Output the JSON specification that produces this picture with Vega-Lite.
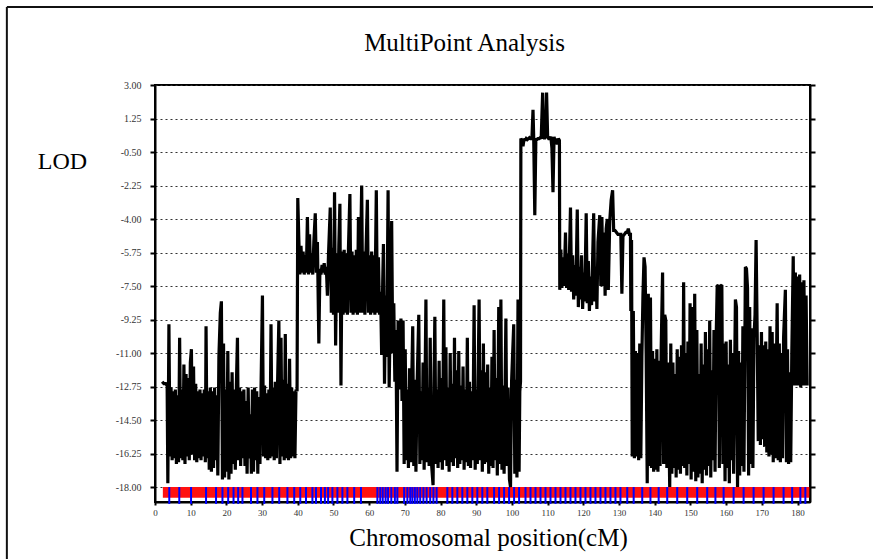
{
  "$schema": "https://vega.github.io/schema/vega-lite/v6.json",
  "width": 655,
  "height": 417,
  "autosize": "none",
  "padding": {"left": 155, "top": 85, "right": 63, "bottom": 57},
  "background": "white",
  "title": {
    "text": "MultiPoint Analysis",
    "font": "Liberation Serif",
    "fontSize": 25,
    "fontWeight": "normal",
    "color": "black",
    "anchor": "middle",
    "frame": "group",
    "dx": -18,
    "offset": -50
  },
  "config": {
    "view": {"stroke": "black", "strokeWidth": 2},
    "axis": {
      "domainColor": "black",
      "domainWidth": 2,
      "tickColor": "black",
      "tickWidth": 2,
      "labelFont": "Liberation Serif",
      "labelColor": "#333",
      "titleFont": "Liberation Serif",
      "titleFontWeight": "normal",
      "titleColor": "black"
    },
    "axisX": {"labelOverlap": false}
  },
  "datasets": {
    "lod": [
      {"cM":2.0,"lod":-12.5},{"cM":2.5,"lod":-12.6},{"cM":3.0,"lod":-12.6},{"cM":3.4,"lod":-12.7},{"cM":3.6,"lod":-17.8},{"cM":3.9,"lod":-9.5},{"cM":4.2,"lod":-16.4},{"cM":4.5,"lod":-12.8},{"cM":4.8,"lod":-16.6},{"cM":5.1,"lod":-13.0},
      {"cM":5.4,"lod":-16.5},{"cM":5.7,"lod":-12.9},{"cM":6.0,"lod":-16.8},{"cM":6.3,"lod":-13.2},{"cM":6.6,"lod":-16.7},{"cM":6.9,"lod":-10.2},{"cM":7.2,"lod":-16.5},{"cM":7.5,"lod":-12.9},{"cM":7.8,"lod":-16.6},{"cM":8.1,"lod":-11.6},
      {"cM":8.4,"lod":-16.8},{"cM":8.7,"lod":-12.1},{"cM":9.0,"lod":-16.4},{"cM":9.3,"lod":-12.3},{"cM":9.6,"lod":-16.6},{"cM":9.9,"lod":-11.5},{"cM":10.2,"lod":-10.8},{"cM":10.5,"lod":-16.3},{"cM":10.8,"lod":-11.7},{"cM":11.1,"lod":-16.6},
      {"cM":11.4,"lod":-12.6},{"cM":11.7,"lod":-16.7},{"cM":12.0,"lod":-13.0},{"cM":12.3,"lod":-16.5},{"cM":12.6,"lod":-12.9},{"cM":12.9,"lod":-16.6},{"cM":13.2,"lod":-13.1},{"cM":13.5,"lod":-16.4},{"cM":13.8,"lod":-12.9},{"cM":14.1,"lod":-16.7},
      {"cM":14.3,"lod":-9.6},{"cM":14.6,"lod":-16.5},{"cM":14.9,"lod":-13.0},{"cM":15.2,"lod":-17.1},{"cM":15.5,"lod":-12.8},{"cM":15.8,"lod":-17.2},{"cM":16.1,"lod":-13.0},{"cM":16.4,"lod":-17.0},{"cM":16.7,"lod":-12.8},{"cM":17.0,"lod":-16.6},
      {"cM":17.3,"lod":-13.2},{"cM":17.6,"lod":-17.4},{"cM":17.9,"lod":-11.2},{"cM":18.3,"lod":-8.9},{"cM":18.6,"lod":-8.3},{"cM":18.9,"lod":-17.6},{"cM":19.2,"lod":-10.5},{"cM":19.5,"lod":-17.5},{"cM":19.8,"lod":-12.9},{"cM":20.1,"lod":-17.2},
      {"cM":20.4,"lod":-10.9},{"cM":20.7,"lod":-17.6},{"cM":21.0,"lod":-12.5},{"cM":21.3,"lod":-17.3},{"cM":21.6,"lod":-12.0},{"cM":21.9,"lod":-16.8},{"cM":22.2,"lod":-12.9},{"cM":22.5,"lod":-17.1},{"cM":22.8,"lod":-12.7},{"cM":23.1,"lod":-10.2},
      {"cM":23.4,"lod":-16.6},{"cM":23.7,"lod":-12.8},{"cM":24.0,"lod":-16.9},{"cM":24.3,"lod":-13.0},{"cM":24.6,"lod":-16.5},{"cM":24.9,"lod":-12.9},{"cM":25.2,"lod":-16.9},{"cM":25.5,"lod":-13.5},{"cM":25.8,"lod":-17.3},{"cM":26.1,"lod":-12.8},
      {"cM":26.4,"lod":-16.5},{"cM":26.7,"lod":-14.2},{"cM":27.0,"lod":-17.3},{"cM":27.3,"lod":-12.9},{"cM":27.6,"lod":-17.2},{"cM":27.9,"lod":-12.8},{"cM":28.2,"lod":-16.6},{"cM":28.5,"lod":-13.0},{"cM":28.8,"lod":-17.3},{"cM":29.1,"lod":-13.3},
      {"cM":29.4,"lod":-16.8},{"cM":29.7,"lod":-12.9},{"cM":30.1,"lod":-8.0},{"cM":30.4,"lod":-16.4},{"cM":30.7,"lod":-12.7},{"cM":31.0,"lod":-16.5},{"cM":31.3,"lod":-13.1},{"cM":31.6,"lod":-16.6},{"cM":31.9,"lod":-12.9},{"cM":32.2,"lod":-16.5},
      {"cM":32.5,"lod":-9.5},{"cM":32.8,"lod":-16.4},{"cM":33.1,"lod":-12.8},{"cM":33.4,"lod":-16.6},{"cM":33.7,"lod":-12.5},{"cM":34.0,"lod":-16.5},{"cM":34.3,"lod":-12.9},{"cM":34.7,"lod":-9.3},{"cM":35.0,"lod":-16.8},{"cM":35.3,"lod":-10.2},
      {"cM":35.6,"lod":-16.4},{"cM":35.9,"lod":-12.4},{"cM":36.2,"lod":-16.6},{"cM":36.5,"lod":-10.0},{"cM":36.8,"lod":-16.5},{"cM":37.1,"lod":-12.6},{"cM":37.4,"lod":-16.6},{"cM":37.7,"lod":-11.3},{"cM":38.0,"lod":-16.5},{"cM":38.3,"lod":-12.8},
      {"cM":38.6,"lod":-16.4},{"cM":38.9,"lod":-13.0},{"cM":39.2,"lod":-16.5},{"cM":39.5,"lod":-12.9},{"cM":39.8,"lod":-13.0},
      {"cM":40.0,"lod":-2.9},{"cM":40.3,"lod":-5.1},{"cM":40.6,"lod":-6.9},{"cM":40.9,"lod":-5.4},{"cM":41.2,"lod":-6.8},{"cM":41.5,"lod":-5.7},{"cM":41.8,"lod":-6.9},{"cM":42.1,"lod":-5.9},{"cM":42.4,"lod":-6.8},{"cM":42.7,"lod":-3.9},
      {"cM":43.0,"lod":-6.9},{"cM":43.3,"lod":-4.8},{"cM":43.6,"lod":-6.8},{"cM":43.9,"lod":-5.8},{"cM":44.2,"lod":-6.9},{"cM":44.5,"lod":-5.2},{"cM":44.9,"lod":-3.7},{"cM":45.2,"lod":-6.8},{"cM":45.5,"lod":-5.2},{"cM":45.9,"lod":-10.5},
      {"cM":46.2,"lod":-6.6},{"cM":46.5,"lod":-6.9},{"cM":46.8,"lod":-6.4},{"cM":47.1,"lod":-6.8},{"cM":47.4,"lod":-6.3},{"cM":47.7,"lod":-6.9},{"cM":48.0,"lod":-6.5},{"cM":48.3,"lod":-8.0},{"cM":48.6,"lod":-5.9},{"cM":49.1,"lod":-3.4},
      {"cM":49.4,"lod":-8.9},{"cM":49.7,"lod":-5.5},{"cM":50.0,"lod":-9.0},{"cM":50.3,"lod":-2.6},{"cM":50.6,"lod":-10.6},{"cM":50.9,"lod":-5.8},{"cM":51.2,"lod":-8.9},{"cM":51.5,"lod":-5.4},{"cM":51.8,"lod":-3.2},{"cM":52.1,"lod":-12.7},
      {"cM":52.4,"lod":-5.7},{"cM":52.7,"lod":-9.0},{"cM":53.0,"lod":-5.6},{"cM":53.3,"lod":-8.9},{"cM":53.6,"lod":-5.8},{"cM":53.9,"lod":-9.0},{"cM":54.2,"lod":-5.5},{"cM":54.6,"lod":-2.7},{"cM":54.9,"lod":-8.9},{"cM":55.2,"lod":-5.7},
      {"cM":55.5,"lod":-9.0},{"cM":55.8,"lod":-5.9},{"cM":56.1,"lod":-8.9},{"cM":56.4,"lod":-5.6},{"cM":56.7,"lod":-9.0},{"cM":57.0,"lod":-3.9},{"cM":57.3,"lod":-8.9},{"cM":57.6,"lod":-5.8},{"cM":57.9,"lod":-2.25},{"cM":58.2,"lod":-8.9},
      {"cM":58.5,"lod":-5.7},{"cM":58.8,"lod":-9.0},{"cM":59.1,"lod":-5.8},{"cM":59.5,"lod":-3.0},{"cM":59.8,"lod":-8.9},{"cM":60.1,"lod":-5.9},{"cM":60.4,"lod":-9.0},{"cM":60.7,"lod":-5.7},{"cM":61.0,"lod":-8.9},{"cM":61.3,"lod":-5.9},
      {"cM":61.6,"lod":-9.0},{"cM":62.0,"lod":-2.5},{"cM":62.3,"lod":-8.9},{"cM":62.6,"lod":-6.0},{"cM":62.9,"lod":-9.0},{"cM":63.2,"lod":-7.8},{"cM":63.5,"lod":-11.1},{"cM":63.8,"lod":-7.2},{"cM":64.0,"lod":-5.3},{"cM":64.3,"lod":-12.6},
      {"cM":64.6,"lod":-8.0},{"cM":64.9,"lod":-11.2},{"cM":65.3,"lod":-2.5},{"cM":65.6,"lod":-12.8},{"cM":66.0,"lod":-7.8},{"cM":66.3,"lod":-4.1},{"cM":66.6,"lod":-11.0},{"cM":66.9,"lod":-8.4},{"cM":67.2,"lod":-12.5},{"cM":67.5,"lod":-9.8},
      {"cM":67.8,"lod":-17.2},{"cM":68.1,"lod":-9.3},{"cM":68.4,"lod":-12.9},{"cM":68.9,"lod":-9.2},{"cM":69.2,"lod":-13.5},{"cM":69.5,"lod":-9.3},
      {"cM":69.8,"lod":-16.8},{"cM":70.1,"lod":-10.8},{"cM":70.4,"lod":-16.6},{"cM":70.7,"lod":-12.9},{"cM":71.0,"lod":-17.0},{"cM":71.3,"lod":-11.8},{"cM":71.6,"lod":-16.7},{"cM":71.9,"lod":-12.7},{"cM":72.2,"lod":-9.6},{"cM":72.5,"lod":-16.9},
      {"cM":72.8,"lod":-12.4},{"cM":73.1,"lod":-17.2},{"cM":73.4,"lod":-12.9},{"cM":73.9,"lod":-9.0},{"cM":74.2,"lod":-16.8},{"cM":74.5,"lod":-13.0},{"cM":74.8,"lod":-16.6},{"cM":75.1,"lod":-11.5},{"cM":75.4,"lod":-17.1},{"cM":75.9,"lod":-8.2},
      {"cM":76.2,"lod":-16.7},{"cM":76.5,"lod":-12.8},{"cM":76.8,"lod":-16.9},{"cM":77.1,"lod":-10.2},{"cM":77.4,"lod":-16.6},{"cM":77.9,"lod":-17.9},{"cM":78.2,"lod":-12.0},{"cM":78.4,"lod":-9.1},{"cM":78.7,"lod":-16.8},{"cM":79.0,"lod":-12.9},
      {"cM":79.3,"lod":-17.0},{"cM":79.6,"lod":-11.4},{"cM":79.9,"lod":-16.7},{"cM":80.2,"lod":-12.3},{"cM":80.5,"lod":-17.1},{"cM":80.9,"lod":-8.2},{"cM":81.2,"lod":-16.6},{"cM":81.5,"lod":-10.7},{"cM":81.8,"lod":-16.9},{"cM":82.1,"lod":-12.8},
      {"cM":82.4,"lod":-17.2},{"cM":82.7,"lod":-11.0},{"cM":83.0,"lod":-16.7},{"cM":83.3,"lod":-12.6},{"cM":83.6,"lod":-16.9},{"cM":83.9,"lod":-10.2},{"cM":84.2,"lod":-16.5},{"cM":84.5,"lod":-11.9},{"cM":84.8,"lod":-17.0},{"cM":85.1,"lod":-10.9},
      {"cM":85.4,"lod":-16.8},{"cM":85.7,"lod":-12.7},{"cM":86.0,"lod":-16.6},{"cM":86.3,"lod":-11.7},{"cM":86.6,"lod":-17.1},{"cM":86.9,"lod":-12.9},{"cM":87.2,"lod":-16.7},{"cM":87.5,"lod":-10.2},{"cM":87.8,"lod":-16.9},{"cM":88.1,"lod":-12.5},
      {"cM":88.4,"lod":-17.0},{"cM":88.7,"lod":-13.0},{"cM":89.0,"lod":-16.6},{"cM":89.4,"lod":-8.5},{"cM":89.7,"lod":-17.1},{"cM":90.0,"lod":-12.9},{"cM":90.3,"lod":-16.8},{"cM":90.5,"lod":-12.7},{"cM":90.8,"lod":-8.2},{"cM":91.1,"lod":-16.6},
      {"cM":91.4,"lod":-11.9},{"cM":91.7,"lod":-17.2},{"cM":92.0,"lod":-10.5},{"cM":92.3,"lod":-16.8},{"cM":92.6,"lod":-12.0},{"cM":92.9,"lod":-16.7},{"cM":93.2,"lod":-11.6},{"cM":93.5,"lod":-17.3},{"cM":93.8,"lod":-12.8},{"cM":94.1,"lod":-16.9},
      {"cM":94.4,"lod":-11.2},{"cM":94.7,"lod":-17.0},{"cM":95.0,"lod":-9.8},{"cM":95.3,"lod":-16.6},{"cM":95.6,"lod":-12.3},{"cM":95.9,"lod":-17.4},{"cM":96.3,"lod":-8.6},{"cM":96.6,"lod":-16.8},{"cM":96.9,"lod":-8.2},{"cM":97.2,"lod":-17.1},
      {"cM":97.5,"lod":-12.7},{"cM":97.8,"lod":-17.3},{"cM":98.3,"lod":-9.2},{"cM":98.6,"lod":-16.9},{"cM":98.9,"lod":-12.8},{"cM":99.3,"lod":-17.6},{"cM":99.6,"lod":-18.0},{"cM":99.9,"lod":-12.5},{"cM":100.5,"lod":-9.5},{"cM":100.8,"lod":-17.3},
      {"cM":101.1,"lod":-12.4},{"cM":101.4,"lod":-17.5},{"cM":101.7,"lod":-8.2},{"cM":102.0,"lod":-17.2},{"cM":102.2,"lod":-13.0},{"cM":102.4,"lod":-12.5},
      {"cM":102.5,"lod":0.2},{"cM":102.8,"lod":0.1},{"cM":103.1,"lod":-0.2},{"cM":103.4,"lod":0.2},{"cM":103.7,"lod":0.1},{"cM":104.0,"lod":0.2},{"cM":104.3,"lod":0.15},{"cM":104.6,"lod":0.2},{"cM":104.9,"lod":0.25},{"cM":105.2,"lod":0.2},
      {"cM":105.6,"lod":0.2},{"cM":105.9,"lod":1.7},{"cM":106.1,"lod":0.2},{"cM":106.4,"lod":-3.8},{"cM":106.7,"lod":0.2},{"cM":107.0,"lod":0.15},{"cM":107.3,"lod":0.2},{"cM":107.6,"lod":0.2},{"cM":107.9,"lod":0.25},{"cM":108.2,"lod":0.2},
      {"cM":108.6,"lod":2.6},{"cM":108.8,"lod":0.3},{"cM":109.1,"lod":0.2},{"cM":109.4,"lod":0.3},{"cM":109.7,"lod":2.6},{"cM":110.0,"lod":0.3},{"cM":110.3,"lod":0.2},{"cM":110.6,"lod":0.2},{"cM":110.9,"lod":0.3},{"cM":111.2,"lod":-0.3},
      {"cM":111.5,"lod":-2.6},{"cM":111.8,"lod":0.3},{"cM":112.1,"lod":0.0},{"cM":112.4,"lod":0.2},{"cM":112.7,"lod":-0.1},{"cM":113.0,"lod":0.2},{"cM":113.3,"lod":0.1},
      {"cM":113.4,"lod":-7.7},{"cM":113.7,"lod":-5.6},{"cM":114.0,"lod":-7.6},{"cM":114.3,"lod":-6.0},{"cM":114.6,"lod":-7.5},{"cM":115.0,"lod":-4.7},{"cM":115.3,"lod":-7.6},{"cM":115.6,"lod":-5.8},{"cM":115.9,"lod":-7.7},{"cM":116.4,"lod":-3.4},
      {"cM":116.7,"lod":-7.8},{"cM":117.0,"lod":-5.9},{"cM":117.3,"lod":-8.2},{"cM":117.6,"lod":-6.4},{"cM":117.9,"lod":-8.0},{"cM":118.3,"lod":-3.5},{"cM":118.6,"lod":-8.6},{"cM":118.9,"lod":-6.5},{"cM":119.2,"lod":-8.2},{"cM":119.5,"lod":-5.9},
      {"cM":119.8,"lod":-8.7},{"cM":120.1,"lod":-6.8},{"cM":120.4,"lod":-8.3},{"cM":120.8,"lod":-3.7},{"cM":121.1,"lod":-8.4},{"cM":121.4,"lod":-6.2},{"cM":121.7,"lod":-8.8},{"cM":122.0,"lod":-7.0},{"cM":122.3,"lod":-8.5},{"cM":122.9,"lod":-3.7},
      {"cM":123.2,"lod":-8.3},{"cM":123.5,"lod":-6.5},{"cM":123.8,"lod":-8.7},{"cM":124.1,"lod":-5.2},{"cM":124.6,"lod":-3.8},{"cM":124.9,"lod":-7.5},{"cM":125.2,"lod":-3.9},{"cM":125.5,"lod":-7.5},{"cM":125.8,"lod":-4.7},{"cM":126.1,"lod":-8.0},
      {"cM":126.4,"lod":-4.5},{"cM":126.7,"lod":-4.0},{"cM":127.0,"lod":-7.7},{"cM":127.4,"lod":-4.1},{"cM":127.8,"lod":-3.0},{"cM":128.2,"lod":-2.5},{"cM":128.5,"lod":-4.6},{"cM":128.9,"lod":-4.6},{"cM":129.3,"lod":-4.7},{"cM":129.7,"lod":-4.8},
      {"cM":130.1,"lod":-4.8},{"cM":130.5,"lod":-4.8},{"cM":130.8,"lod":-7.9},{"cM":131.1,"lod":-4.9},{"cM":131.5,"lod":-4.8},{"cM":131.9,"lod":-4.7},{"cM":132.3,"lod":-4.7},{"cM":132.6,"lod":-4.5},{"cM":132.9,"lod":-4.8},{"cM":133.2,"lod":-4.8},
      {"cM":133.3,"lod":-8.8},{"cM":133.5,"lod":-5.1},{"cM":133.7,"lod":-16.4},{"cM":134.0,"lod":-8.8},{"cM":134.3,"lod":-16.5},{"cM":134.6,"lod":-10.9},{"cM":134.9,"lod":-16.4},{"cM":135.2,"lod":-11.0},{"cM":135.5,"lod":-16.6},{"cM":135.8,"lod":-10.5},
      {"cM":136.1,"lod":-16.5},{"cM":136.4,"lod":-11.2},{"cM":136.7,"lod":-8.0},{"cM":137.0,"lod":-6.0},{"cM":137.3,"lod":-6.5},{"cM":137.6,"lod":-11.0},{"cM":137.9,"lod":-17.8},{"cM":138.2,"lod":-7.9},{"cM":138.5,"lod":-16.9},{"cM":138.8,"lod":-8.1},
      {"cM":139.1,"lod":-17.0},{"cM":139.4,"lod":-10.9},{"cM":139.7,"lod":-17.2},{"cM":140.0,"lod":-11.3},{"cM":140.3,"lod":-17.1},{"cM":140.6,"lod":-10.8},{"cM":140.9,"lod":-17.2},{"cM":141.2,"lod":-11.4},{"cM":141.5,"lod":-16.9},{"cM":141.8,"lod":-10.9},
      {"cM":142.2,"lod":-6.8},{"cM":142.5,"lod":-16.8},{"cM":142.8,"lod":-9.0},{"cM":143.1,"lod":-9.3},{"cM":143.4,"lod":-17.0},{"cM":143.7,"lod":-11.5},{"cM":144.2,"lod":-18.0},{"cM":144.5,"lod":-10.5},{"cM":144.8,"lod":-17.3},{"cM":145.1,"lod":-11.5},
      {"cM":145.4,"lod":-17.0},{"cM":145.7,"lod":-12.1},{"cM":146.0,"lod":-17.5},{"cM":146.3,"lod":-10.8},{"cM":146.6,"lod":-17.1},{"cM":146.9,"lod":-11.2},{"cM":147.2,"lod":-17.3},{"cM":147.5,"lod":-10.6},{"cM":147.8,"lod":-16.9},{"cM":148.1,"lod":-7.3},
      {"cM":148.4,"lod":-17.0},{"cM":148.7,"lod":-11.0},{"cM":149.0,"lod":-17.4},{"cM":149.3,"lod":-10.4},{"cM":149.6,"lod":-16.8},{"cM":149.9,"lod":-8.4},{"cM":150.2,"lod":-17.6},{"cM":150.5,"lod":-8.6},{"cM":150.9,"lod":-17.2},{"cM":151.2,"lod":-7.9},
      {"cM":151.5,"lod":-17.7},{"cM":151.8,"lod":-9.8},{"cM":152.1,"lod":-17.5},{"cM":152.4,"lod":-12.1},{"cM":152.7,"lod":-17.3},{"cM":153.0,"lod":-10.5},{"cM":153.3,"lod":-17.8},{"cM":153.6,"lod":-11.6},{"cM":153.9,"lod":-17.1},{"cM":154.2,"lod":-9.9},
      {"cM":154.5,"lod":-17.4},{"cM":154.8,"lod":-10.8},{"cM":155.1,"lod":-16.9},{"cM":155.4,"lod":-9.3},{"cM":155.7,"lod":-17.5},{"cM":156.0,"lod":-11.9},{"cM":156.3,"lod":-16.6},{"cM":156.6,"lod":-9.8},{"cM":156.9,"lod":-17.2},{"cM":157.2,"lod":-10.3},
      {"cM":157.5,"lod":-7.5},{"cM":157.8,"lod":-7.45},{"cM":158.1,"lod":-17.0},{"cM":158.4,"lod":-7.5},{"cM":158.8,"lod":-7.45},{"cM":159.1,"lod":-16.8},{"cM":159.4,"lod":-10.5},{"cM":159.7,"lod":-17.7},{"cM":160.0,"lod":-10.4},{"cM":160.3,"lod":-17.0},
      {"cM":160.6,"lod":-11.6},{"cM":160.9,"lod":-17.8},{"cM":161.2,"lod":-10.3},{"cM":161.5,"lod":-16.6},{"cM":161.8,"lod":-11.0},{"cM":162.1,"lod":-17.3},{"cM":162.6,"lod":-8.2},{"cM":162.9,"lod":-8.6},{"cM":163.2,"lod":-18.0},{"cM":163.5,"lod":-10.9},
      {"cM":163.8,"lod":-17.4},{"cM":164.1,"lod":-11.5},{"cM":164.4,"lod":-16.9},{"cM":164.7,"lod":-9.6},{"cM":165.0,"lod":-17.2},{"cM":165.4,"lod":-6.5},{"cM":165.7,"lod":-6.6},{"cM":166.0,"lod":-7.6},{"cM":166.3,"lod":-17.4},{"cM":166.6,"lod":-8.6},
      {"cM":166.9,"lod":-16.8},{"cM":167.2,"lod":-9.7},{"cM":167.5,"lod":-17.0},{"cM":167.8,"lod":-10.2},{"cM":168.1,"lod":-9.0},{"cM":168.4,"lod":-5.1},{"cM":168.7,"lod":-10.0},{"cM":169.0,"lod":-15.6},{"cM":169.3,"lod":-10.6},{"cM":169.6,"lod":-15.8},
      {"cM":169.9,"lod":-9.9},{"cM":170.2,"lod":-15.5},{"cM":170.5,"lod":-10.6},{"cM":170.8,"lod":-15.9},{"cM":171.1,"lod":-10.4},{"cM":171.4,"lod":-16.2},{"cM":171.7,"lod":-10.8},{"cM":172.0,"lod":-16.4},{"cM":172.3,"lod":-9.6},{"cM":172.6,"lod":-16.3},
      {"cM":172.9,"lod":-9.9},{"cM":173.2,"lod":-16.7},{"cM":173.5,"lod":-10.5},{"cM":173.8,"lod":-16.5},{"cM":174.3,"lod":-8.4},{"cM":174.6,"lod":-16.6},{"cM":174.9,"lod":-10.5},{"cM":175.2,"lod":-16.7},{"cM":175.5,"lod":-11.0},{"cM":175.8,"lod":-16.5},
      {"cM":176.1,"lod":-10.2},{"cM":176.6,"lod":-7.7},{"cM":176.9,"lod":-16.7},{"cM":177.2,"lod":-10.8},{"cM":177.5,"lod":-16.8},{"cM":177.8,"lod":-12.0},{"cM":178.1,"lod":-16.7},{"cM":178.4,"lod":-11.1},{"cM":178.8,"lod":-5.95},{"cM":179.1,"lod":-12.7},
      {"cM":179.4,"lod":-6.8},{"cM":179.7,"lod":-12.7},{"cM":180.0,"lod":-7.0},{"cM":180.3,"lod":-12.7},{"cM":180.6,"lod":-6.9},{"cM":180.9,"lod":-12.8},{"cM":181.2,"lod":-7.3},{"cM":181.5,"lod":-12.7},{"cM":181.8,"lod":-7.2},{"cM":182.1,"lod":-12.7},
      {"cM":182.4,"lod":-8.0},{"cM":182.7,"lod":-12.7}
    ],
    "markers": [
      {"pos":4.0},{"pos":6.8},{"pos":10.1},{"pos":14.3},{"pos":17.1},{"pos":18.9},{"pos":20.5},{"pos":22.0},{"pos":23.3},{"pos":24.5},
      {"pos":26.9},{"pos":28.7},{"pos":30.6},{"pos":32.9},{"pos":34.8},{"pos":37.1},{"pos":39.0},{"pos":40.7},{"pos":42.3},{"pos":44.1},
      {"pos":45.1},{"pos":46.5},{"pos":47.6},{"pos":48.5},{"pos":49.7},{"pos":51.1},{"pos":52.5},{"pos":53.9},{"pos":55.8},{"pos":57.7},
      {"pos":62.3},{"pos":63.1},{"pos":63.8},{"pos":64.6},{"pos":65.3},{"pos":66.2},{"pos":67.2},{"pos":67.9},{"pos":69.8},{"pos":70.7},
      {"pos":71.5},{"pos":72.1},{"pos":72.8},{"pos":73.5},{"pos":74.3},{"pos":75.2},{"pos":76.1},{"pos":77.1},{"pos":78.0},{"pos":78.9},
      {"pos":81.9},{"pos":83.3},{"pos":84.7},{"pos":86.1},{"pos":87.5},{"pos":88.9},{"pos":90.3},{"pos":91.7},{"pos":93.1},{"pos":95.0},
      {"pos":96.4},{"pos":97.8},{"pos":99.2},{"pos":100.6},{"pos":102.0},{"pos":103.8},{"pos":105.2},{"pos":106.6},{"pos":108.0},{"pos":109.4},
      {"pos":110.8},{"pos":112.2},{"pos":113.6},{"pos":115.0},{"pos":116.4},{"pos":117.8},{"pos":119.2},{"pos":120.6},{"pos":122.0},{"pos":123.4},
      {"pos":124.8},{"pos":126.2},{"pos":127.6},{"pos":129.0},{"pos":130.4},{"pos":132.3},{"pos":134.1},{"pos":136.5},{"pos":138.8},{"pos":141.1},
      {"pos":143.5},{"pos":146.3},{"pos":149.1},{"pos":151.9},{"pos":154.7},{"pos":157.0},{"pos":159.3},{"pos":162.1},{"pos":164.9},{"pos":167.7},
      {"pos":170.5},{"pos":173.3},{"pos":176.1},{"pos":178.5},{"pos":180.8},{"pos":182.2}
    ],
    "mapSpan": [
      {"first": 2.2, "last": 183.3}
    ]
  },
  "layer": [
    {
      "description": "red band covering the mapped span of the chromosome",
      "data": {"name": "mapSpan"},
      "mark": {"type": "rect", "fill": "#ff1010"},
      "encoding": {
        "x": {"field": "first", "type": "quantitative", "scale": {"domain": [0, 183.5], "nice": false, "zero": false}, "axis": null},
        "x2": {"field": "last"},
        "y": {"datum": -18, "type": "quantitative", "scale": {"domain": [-18.78, 3], "nice": false, "zero": false}, "axis": null},
        "y2": {"datum": -18.56}
      }
    },
    {
      "description": "genetic marker positions",
      "data": {"name": "markers"},
      "mark": {"type": "rule", "color": "#0000ff", "strokeWidth": 2},
      "encoding": {
        "x": {"field": "pos", "type": "quantitative", "scale": {"domain": [0, 183.5], "nice": false, "zero": false}, "axis": null},
        "y": {"datum": -18, "type": "quantitative", "scale": {"domain": [-18.78, 3], "nice": false, "zero": false}, "axis": null},
        "y2": {"datum": -18.88}
      }
    },
    {
      "description": "baseline at the lowest tick",
      "mark": {"type": "rule", "color": "black", "strokeWidth": 1.5},
      "encoding": {
        "y": {"datum": -18, "type": "quantitative", "scale": {"domain": [-18.78, 3], "nice": false, "zero": false}, "axis": null}
      }
    },
    {
      "description": "multipoint LOD trace",
      "data": {"name": "lod"},
      "mark": {"type": "line", "color": "black", "strokeWidth": 3.2, "strokeJoin": "miter", "strokeMiterLimit": 2},
      "encoding": {
        "x": {
          "field": "cM", "type": "quantitative",
          "scale": {"domain": [0, 183.5], "nice": false, "zero": false},
          "axis": {
            "values": [0,10,20,30,40,50,60,70,80,90,100,110,120,130,140,150,160,170,180],
            "grid": false,
            "tickSize": 3,
            "labelPadding": 3,
            "labelFontSize": 9,
            "labelFlush": false,
            "labelOverlap": false,
            "title": "Chromosomal position(cM)",
            "titleFontSize": 25,
            "titleAlign": "center",
            "titleBaseline": "middle",
            "titleX": 333,
            "titleY": 35
          }
        },
        "y": {
          "field": "lod", "type": "quantitative",
          "scale": {"domain": [-18.78, 3], "nice": false, "zero": false},
          "axis": {
            "orient": "left",
            "values": [3,1.25,-0.5,-2.25,-4,-5.75,-7.5,-9.25,-11,-12.75,-14.5,-16.25,-18],
            "labelExpr": "replace(format(datum.value, '.2f'), '\u2212', '-')",
            "grid": true,
            "gridColor": "#333",
            "gridDash": [2, 3],
            "gridWidth": 1.2,
            "tickSize": 5,
            "labelPadding": 9,
            "labelFontSize": 10,
            "title": "LOD",
            "titleFontSize": 24,
            "titleAngle": 0,
            "titleAlign": "center",
            "titleBaseline": "middle",
            "titleX": -93,
            "titleY": 76
          }
        }
      }
    },
    {
      "description": "significance threshold at LOD 0, also carries the right-hand axis",
      "mark": {"type": "rule", "color": "black", "strokeWidth": 2},
      "encoding": {
        "y": {
          "datum": 0, "type": "quantitative",
          "scale": {"domain": [-18.78, 3], "nice": false, "zero": false},
          "axis": {
            "orient": "right",
            "values": [3,1.25,-0.5,-2.25,-4,-5.75,-7.5,-9.25,-11,-12.75,-14.5,-16.25,-18],
            "labels": false,
            "grid": false,
            "tickSize": 5,
            "title": null
          }
        }
      }
    },
    {
      "description": "outer figure frame, top edge",
      "data": {"values": [{"edge": "top"}]},
      "mark": {"type": "rule", "color": "#111", "strokeWidth": 2},
      "encoding": {
        "y": {"datum": 7.07, "type": "quantitative", "scale": {"domain": [-18.78, 3], "nice": false, "zero": false}, "axis": null},
        "x": {"datum": -41.5, "type": "quantitative", "scale": {"domain": [0, 183.5], "nice": false, "zero": false}, "axis": null},
        "x2": {"datum": 240}
      }
    },
    {
      "description": "outer figure frame, left edge",
      "data": {"values": [{"edge": "left"}]},
      "mark": {"type": "rule", "color": "#111", "strokeWidth": 2},
      "encoding": {
        "x": {"datum": -41.5, "type": "quantitative", "scale": {"domain": [0, 183.5], "nice": false, "zero": false}, "axis": null},
        "y": {"datum": 7.07, "type": "quantitative", "scale": {"domain": [-18.78, 3], "nice": false, "zero": false}, "axis": null},
        "y2": {"datum": -40}
      }
    }
  ],
  "resolve": {"axis": {"x": "independent", "y": "independent"}}
}
